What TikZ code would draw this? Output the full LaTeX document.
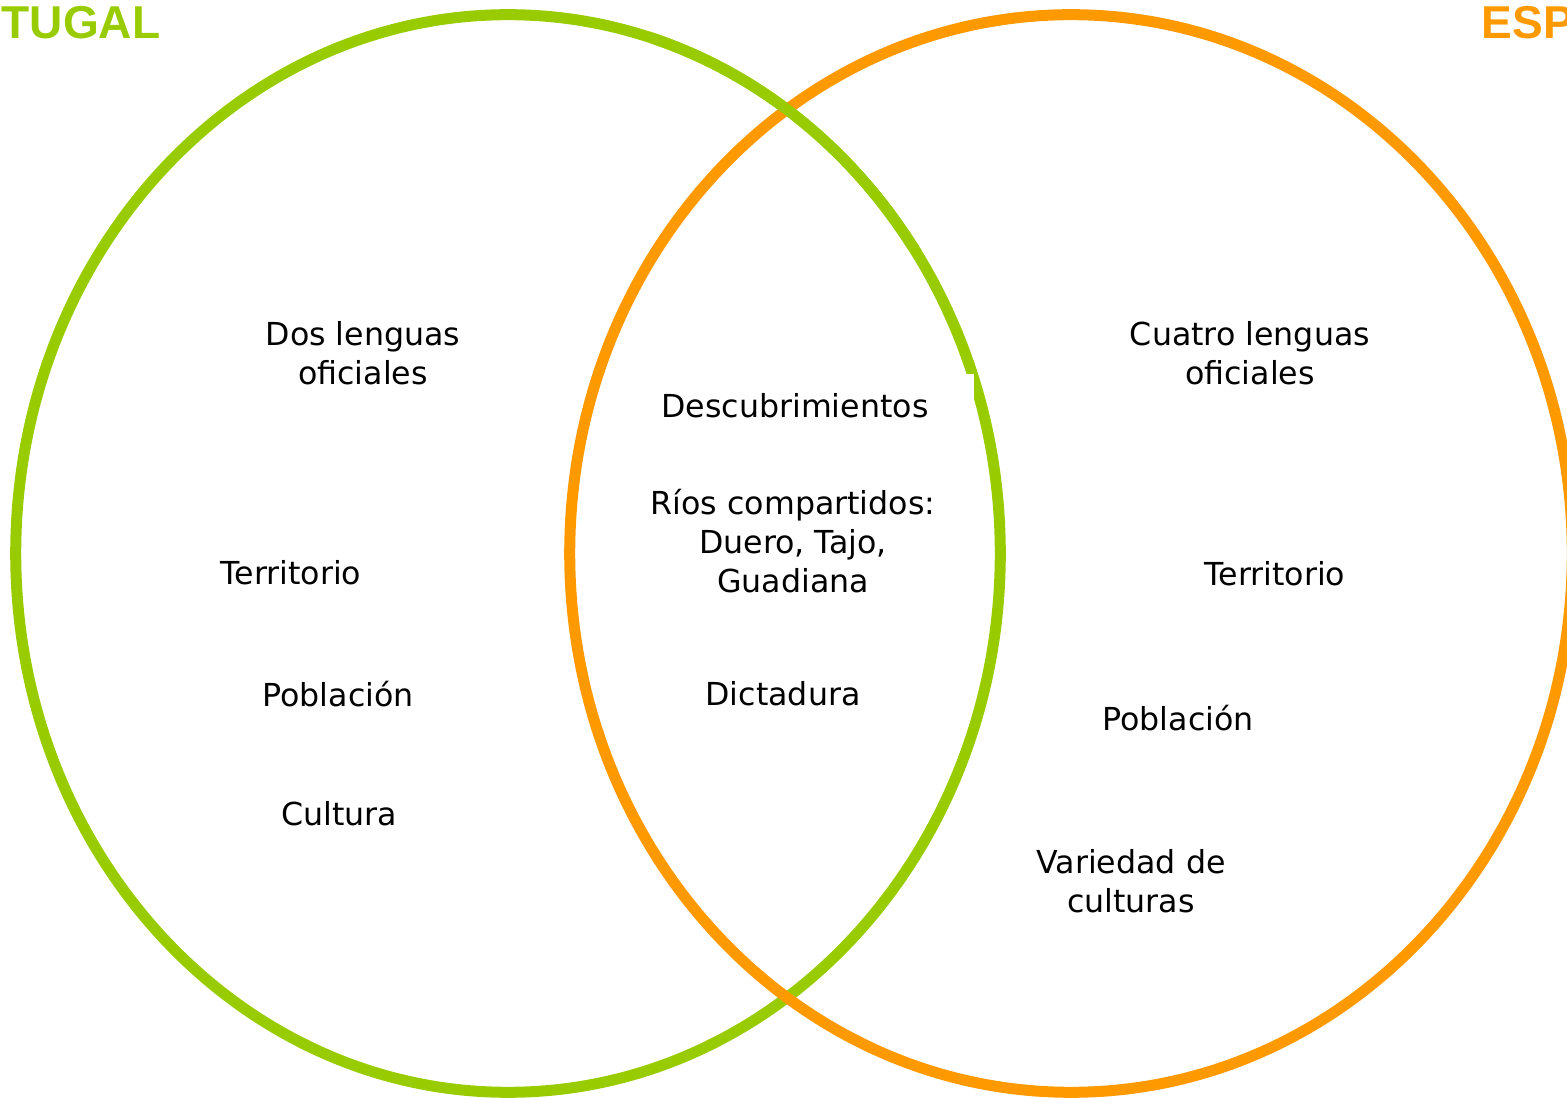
\documentclass[tikz,border=0pt]{standalone}
\usepackage{fontspec}
\setmainfont{DejaVu Sans}
\newfontfamily\titlefont{Liberation Sans}
\definecolor{pgreen}{RGB}{153,204,0}
\definecolor{porange}{RGB}{255,153,0}
\begin{document}
\begin{tikzpicture}[x=0.01cm,y=-0.01cm,
  ring/.style={line width=0.11cm},
  lbl/.style={align=center,inner sep=0pt,font=\fontsize{9}{11.1}\selectfont},
  ttl/.style={inner sep=0pt,font=\titlefont\bfseries\fontsize{13.1}{15}\selectfont}]
\useasboundingbox (0,0) rectangle (1567,1098);
\clip (0,0) rectangle (1567,1098);
% circles
\draw[ring,pgreen] (508,553.5) ellipse [x radius=4.92cm, y radius=5.385cm];
\draw[ring,porange] (1071,553.5) ellipse [x radius=5.01cm, y radius=5.385cm];
\begin{scope}
  \clip (650,0) rectangle (950,250);
  \draw[ring,pgreen] (508,553.5) ellipse [x radius=4.92cm, y radius=5.385cm];
\end{scope}
% white box of the Descubrimientos text
\fill[white] (650,374) rectangle (974,412);
% titles
\node[ttl,pgreen,anchor=east] (tpt) at (161,23) {TUGAL};
\node[ttl,porange,anchor=west] (tes) at (1481,23) {ESP};
% left
\node[lbl] (pt1) at (363,353) {Dos lenguas\\oficiales};
\node[lbl] (pt2) at (291,573) {Territorio};
\node[lbl] (pt3) at (338,694) {Población};
\node[lbl] (pt4) at (339,814) {Cultura};
% middle
\node[lbl] (c1) at (795,406) {Descubrimientos};
\node[lbl] (c2) at (793,541) {Ríos compartidos:\\Duero, Tajo,\\Guadiana};
\node[lbl] (c3) at (783,694) {Dictadura};
% right
\node[lbl] (es1) at (1250,353) {Cuatro lenguas\\oficiales};
\node[lbl] (es2) at (1275,574) {Territorio};
\node[lbl] (es3) at (1178,718) {Población};
\node[lbl] (es4) at (1131,881) {Variedad de\\culturas};
\end{tikzpicture}
\end{document}
